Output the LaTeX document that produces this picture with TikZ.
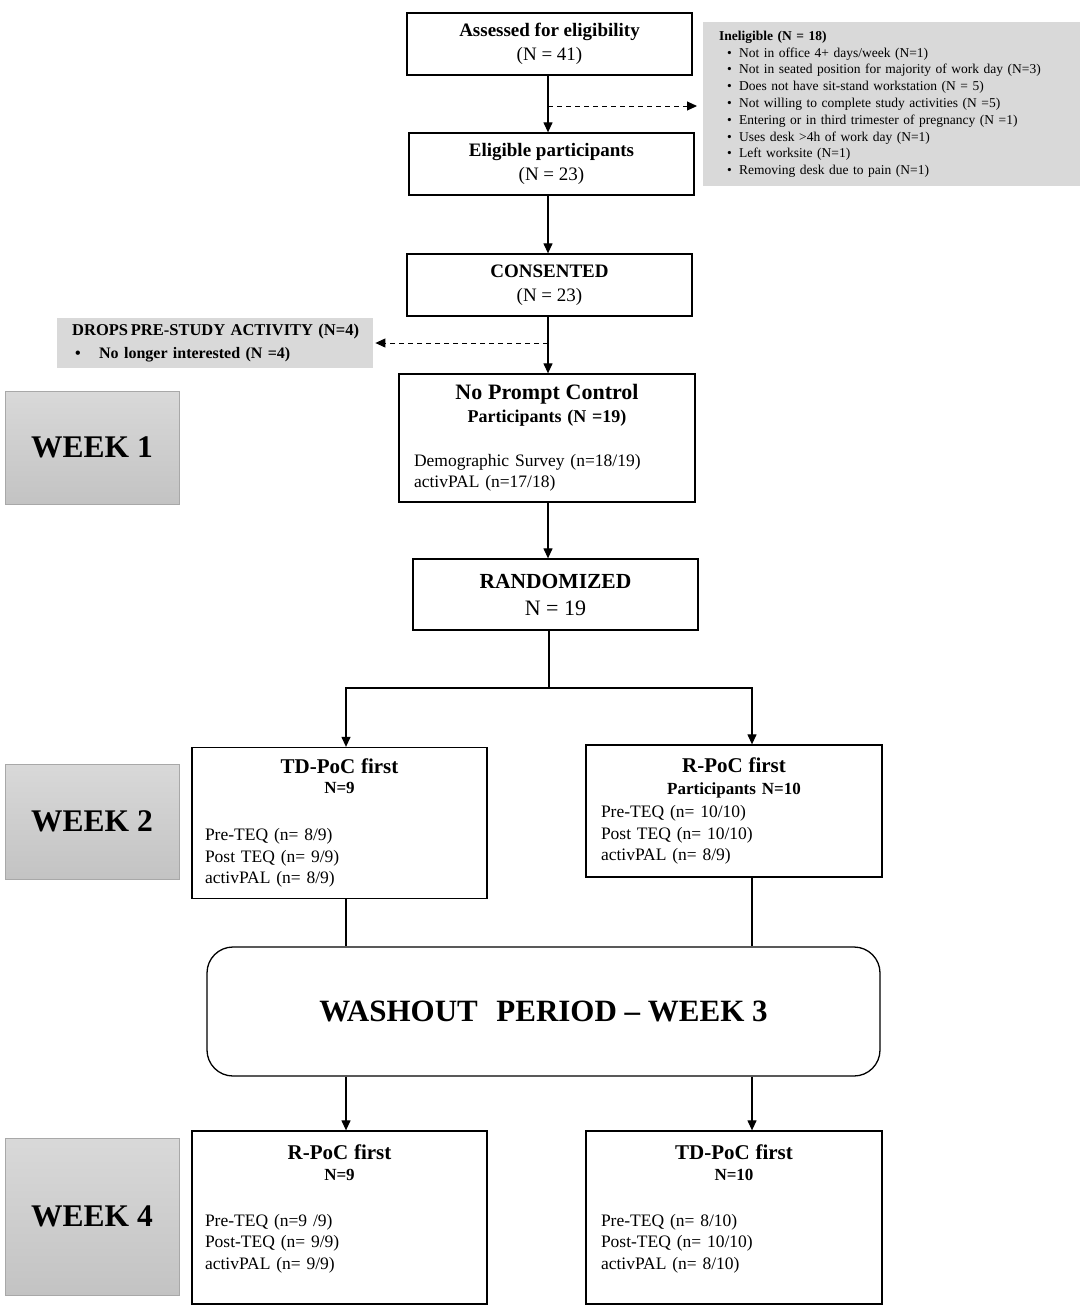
\documentclass[tikz,border=0pt]{standalone}
\usepackage{fontspec}
\setmainfont{Liberation Serif}
\usepackage{xcolor}
\usetikzlibrary{arrows.meta, positioning}
\setlength{\parindent}{0pt}
\newcommand{\bulletline}[1]{\hspace*{8pt}\makebox[12pt][l]{\textbullet}#1}

\begin{document}
\begin{tikzpicture}[x=1pt, y=-1pt,
        stage/.style={
            draw,
            line width=1.3pt,
            inner sep=0pt,
            align=center,
            font=\fontsize{19}{24}\selectfont
        },
        armbox/.style={
            stage,
            align=left,
            inner xsep=13pt,
            font=\fontsize{17.5}{21.5}\selectfont
        },
        note/.style={
            fill=gray!30,
            anchor=north west,
            inner sep=0pt,
            align=left
        },
        weekbox/.style={
            draw=gray!68,
            line width=1pt,
            top color=gray!30,
            bottom color=gray!47,
            minimum width=174pt,
            font=\bfseries\fontsize{31.5}{36}\selectfont
        },
        flow/.style={-{Triangle[length=10pt, width=9pt]}, line width=1.2pt},
        side/.style={flow, dash pattern=on 5pt off 4pt, line width=1pt}
    ]
        \useasboundingbox (0,0) rectangle (1084,1312);

        \coordinate (spine) at (548,0);
        \coordinate (lcol) at (346,0);
        \coordinate (rcol) at (752,0);
        \coordinate (excl) at (548,106);
        \coordinate (drop) at (548,343);
        \coordinate (fork) at (549,688);

        \node[stage, minimum width=285pt, minimum height=62pt] (assessed) at (549.5,44) {
            \textbf{Assessed for eligibility}\\(N = 41)};
        \node[stage, minimum width=285pt, minimum height=62pt] (eligible) at (551.5,164) {
            \textbf{Eligible participants}\\(N = 23)};
        \node[stage, minimum width=285pt, minimum height=62pt] (consented) at (549.5,285) {
            \textbf{CONSENTED}\\(N = 23)};

        \node[note, minimum width=377pt, minimum height=164pt, inner xsep=16pt, text width=345pt,
            font=\fontsize{13.5}{16.8}\selectfont] (ineligible) at (703,22) {
            \textbf{Ineligible (N = 18)}\\
            \bulletline{Not in office 4+ days/week (N=1)}\\
            \bulletline{Not in seated position for majority of work day (N=3)}\\
            \bulletline{Does not have sit-stand workstation (N = 5)}\\
            \bulletline{Not willing to complete study activities (N =5)}\\
            \bulletline{Entering or in third trimester of pregnancy (N =1)}\\
            \bulletline{Uses desk >4h of work day (N=1)}\\
            \bulletline{Left worksite (N=1)}\\
            \bulletline{Removing desk due to pain (N=1)}};

        \node[note, minimum width=316pt, minimum height=50pt, inner xsep=15pt, text width=286pt,
            font=\bfseries\fontsize{16}{23}\selectfont] (dropout) at (57,318) {
            \mbox{\fontsize{16.5}{23}\selectfont DROPS\,PRE-STUDY ACTIVITY (N=4)}\\
            \hspace*{3pt}\makebox[24pt][l]{\textbullet}No longer interested (N =4)};

        \node[armbox, minimum width=296pt, minimum height=128pt, inner xsep=15pt, text width=266pt,
            font=\fontsize{17.5}{21}\selectfont] (control) at (547,438) {
            {\centering\bfseries{\fontsize{22}{23}\selectfont No Prompt Control\par}
            {\fontsize{18}{23}\selectfont Participants (N =19)\par}}
            \vspace{23pt}
            Demographic Survey (n=18/19)\\activPAL (n=17/18)};

        \node[stage, minimum width=285pt, minimum height=71pt, font=\fontsize{19}{27}\selectfont] (randomized) at (555.5,594.5) {
            {\bfseries\fontsize{21.5}{27}\selectfont RANDOMIZED}\\{\fontsize{22}{27}\selectfont N = 19}};

        \node[armbox, minimum width=295pt, minimum height=151pt, text width=269pt] (tdfirst) at (339.5,823) {
            {\centering\bfseries{\fontsize{21}{20}\selectfont TD-PoC first\par}
            {\fontsize{17}{20}\selectfont N=9\par}}
            \vspace{26pt}
            Pre-TEQ (n= 8/9)\\Post TEQ (n= 9/9)\\activPAL (n= 8/9)};

        \node[armbox, minimum width=296pt, minimum height=132pt, inner xsep=15pt, text width=266pt] (rfirst) at (734,811) {
            {\centering\bfseries{\fontsize{21}{22}\selectfont R-PoC first\par}
            {\fontsize{17}{22}\selectfont Participants N=10\par}}
            \vspace{1.5pt}
            Pre-TEQ (n= 10/10)\\Post TEQ (n= 10/10)\\activPAL (n= 8/9)};

        \node[stage, rounded corners=26pt, minimum width=673pt, minimum height=129pt,
            font=\bfseries\fontsize{31}{36}\selectfont] (washout) at (543.5,1011.5) {
            WASHOUT\hspace{0.6em}PERIOD -- WEEK 3};

        \node[armbox, minimum width=295pt, minimum height=173pt, text width=269pt] (rsecond) at (339.5,1217.5) {
            {\centering\bfseries{\fontsize{21}{21}\selectfont R-PoC first\par}
            {\fontsize{17}{21}\selectfont N=9\par}}
            \vspace{24.5pt}
            Pre-TEQ (n=9 /9)\\Post-TEQ (n= 9/9)\\activPAL (n= 9/9)\par
            \hbox{}};

        \node[armbox, minimum width=296pt, minimum height=173pt, inner xsep=15pt, text width=266pt] (tdsecond) at (734,1217.5) {
            {\centering\bfseries{\fontsize{21}{21}\selectfont TD-PoC first\par}
            {\fontsize{17}{21}\selectfont N=10\par}}
            \vspace{24.5pt}
            Pre-TEQ (n= 8/10)\\Post-TEQ (n= 10/10)\\activPAL (n= 8/10)\par
            \hbox{}};

        \node[weekbox, minimum height=113pt] (week1) at (92,447.5) {WEEK 1};
        \node[weekbox, minimum height=115pt] (week2) at (92,821.5) {WEEK 2};
        \node[weekbox, minimum height=157pt] (week4) at (92,1216.5) {WEEK 4};

        \draw[flow] (assessed.south -| spine) -- (eligible.north -| spine);
        \draw[side, shorten >=6pt] (excl) -- (excl -| ineligible.west);
        \draw[flow] (eligible.south -| spine) -- (consented.north -| spine);
        \draw[flow] (consented.south -| spine) -- (control.north -| spine);
        \draw[side, shorten >=2pt] (drop) -- (drop -| dropout.east);
        \draw[flow] (control.south -| spine) -- (randomized.north -| spine);
        \draw[flow] (randomized.south -| fork) -- (fork) -| (tdfirst.north -| lcol);
        \draw[flow] (fork) -| (rfirst.north -| rcol);
        \draw[line width=1.2pt] (tdfirst.south -| lcol) -- (washout.north -| lcol);
        \draw[line width=1.2pt] (rfirst.south -| rcol) -- (washout.north -| rcol);
        \draw[flow] (washout.south -| lcol) -- (rsecond.north -| lcol);
        \draw[flow] (washout.south -| rcol) -- (tdsecond.north -| rcol);
    \end{tikzpicture}
\end{document}
